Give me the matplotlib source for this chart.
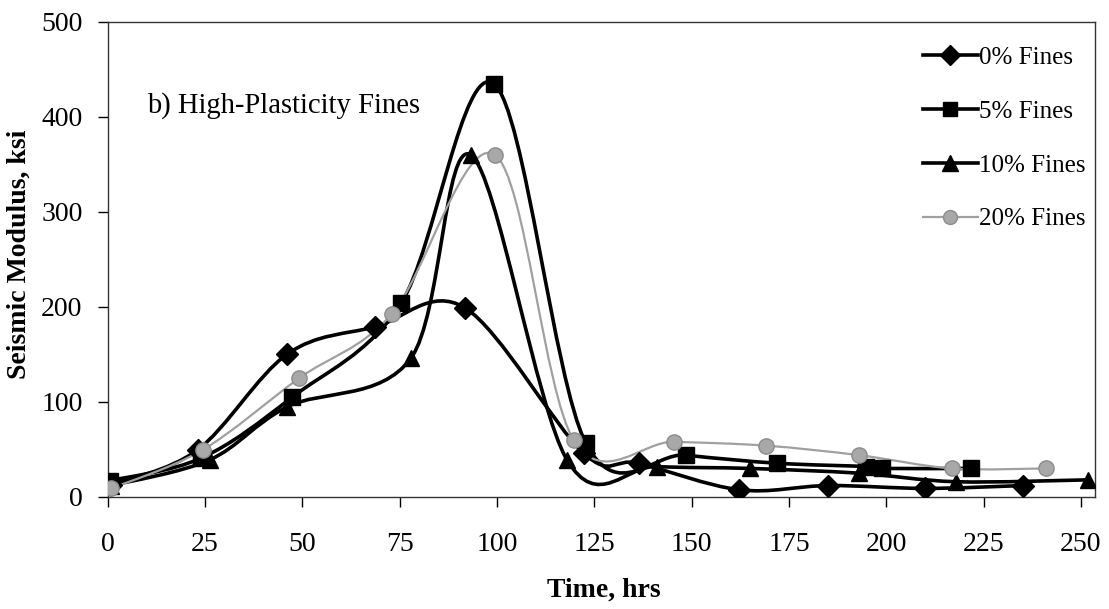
import numpy as np
import matplotlib
matplotlib.use('Agg')
import matplotlib.pyplot as plt
from matplotlib.path import Path
from matplotlib.patches import PathPatch
from matplotlib.lines import Line2D

# Seismic modulus (ksi) versus time (hrs), high-plasticity fines
t_0 = [1, 23.1, 46.2, 68.7, 91.8, 122.3, 136.4, 162.3, 185.1, 210, 235.1]
v_0 = [13, 49.5, 150.5, 179, 199, 46, 35.5, 7.5, 12, 9, 12]

t_5 = [0.5, 24.1, 47.4, 75.4, 99.2, 122.8, 148.5, 172, 194.9, 199, 221.8]
v_5 = [17, 41, 105, 204, 435, 57, 44, 35.5, 32, 30, 30]

t_10 = [1, 26.2, 46.2, 77.9, 93.3, 118, 141, 165, 193, 218, 251.8]
v_10 = [12, 39, 95, 146, 360, 39, 32, 30, 25, 16, 18]

t_20 = [1, 24.4, 49.2, 73.1, 99.5, 119.7, 145.4, 169, 193, 216.9, 241]
v_20 = [9, 49.5, 125, 193, 360, 60, 58, 54, 44, 30, 30]

labels = ['0% Fines', '5% Fines', '10% Fines', '20% Fines']

plt.rcParams['font.family'] = ['Liberation Serif', 'DejaVu Serif']


def smooth_path(x, y):
    # Excel-style smoothed line: cubic Bezier with Catmull-Rom tangents
    pts = np.column_stack([x, y]).astype(float)
    verts = [pts[0]]
    codes = [Path.MOVETO]
    n = len(pts)
    for i in range(n - 1):
        p0 = pts[i - 1] if i > 0 else pts[i]
        p1 = pts[i]
        p2 = pts[i + 1]
        p3 = pts[i + 2] if i + 2 < n else pts[i + 1]
        verts += [p1 + (p2 - p0) / 6.0, p2 - (p3 - p1) / 6.0, p2]
        codes += [Path.CURVE4] * 3
    return Path(verts, codes)


fig = plt.figure(figsize=(11.09, 6.09), dpi=100)
ax = fig.add_axes([0.097, 0.184, 0.89, 0.78])

series = [
    (t_0, v_0, 'D', 11, 'black', 'black', 2.6),
    (t_5, v_5, 's', 11, 'black', 'black', 2.6),
    (t_10, v_10, '^', 12, 'black', 'black', 2.6),
    (t_20, v_20, 'o', 11, '#a8a8a8', '#a0a0a0', 1.6),
]

handles = []
for (t, v, mk, ms, mc, lc, lw), lab in zip(series, labels):
    patch = PathPatch(smooth_path(t, v), facecolor='none', edgecolor=lc,
                      lw=lw, zorder=2, capstyle='round', joinstyle='round')
    ax.add_patch(patch)
    ec = '#8c8c8c' if mk == 'o' else mc
    ax.plot(t, v, linestyle='none', marker=mk, ms=ms, color=mc,
            markeredgecolor=ec, zorder=3)
    handles.append(Line2D([], [], color=lc, lw=lw, marker=mk, ms=ms - 1,
                          markerfacecolor=mc, markeredgecolor=ec))

ax.set_xlim(0, 253.5)
ax.set_ylim(0, 500)
ax.set_xticks(np.arange(0, 251, 25))
ax.set_yticks(np.arange(0, 501, 100))
ax.tick_params(direction='out', length=7, width=1, labelsize=20)
ax.tick_params(axis='x', pad=18)
ax.tick_params(axis='y', pad=11)
for s in ax.spines.values():
    s.set_linewidth(1.0)
    s.set_color('#333333')

ax.set_xlabel('Time, hrs', fontsize=20, fontweight='bold', va='top')
ax.xaxis.set_label_coords(0.503, -0.1705)
ax.set_ylabel('Seismic Modulus, ksi', fontsize=20, fontweight='bold')
ax.yaxis.set_label_coords(-0.077, 0.51)

ax.text(0.04, 0.8245, 'b) High-Plasticity Fines', transform=ax.transAxes,
        fontsize=20.6, va='center', ha='left')

ax.legend(handles, labels, loc='upper left', bbox_to_anchor=(0.826, 0.948),
          frameon=False, fontsize=18, labelspacing=1.25, handlelength=2.2,
          handletextpad=0.05, borderpad=0, borderaxespad=0)

fig.savefig('out.png', dpi=100)
